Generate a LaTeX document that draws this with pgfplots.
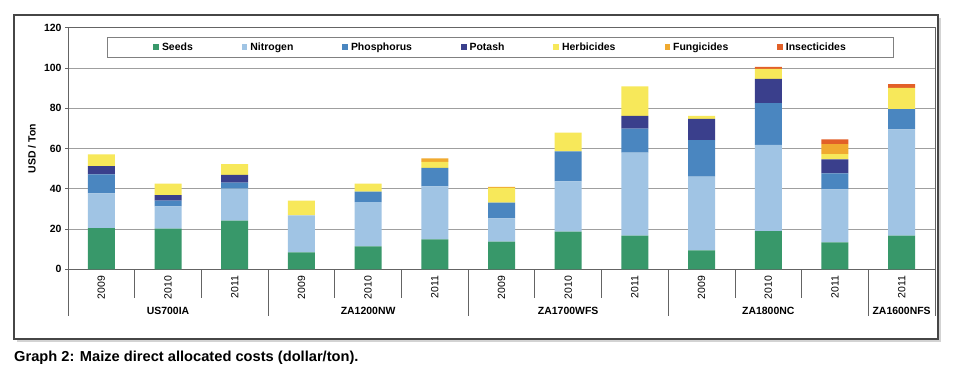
\documentclass[border=0pt]{standalone}
\usepackage{pgfplots}
\pgfplotsset{compat=1.18}
\usepackage{pgfplotstable}
\usepackage{fontspec}
\setmainfont{Liberation Sans}
\usetikzlibrary{shadows}
\definecolor{cSeeds}{RGB}{56,152,106}
\definecolor{cNit}{RGB}{160,196,228}
\definecolor{cPho}{RGB}{74,134,192}
\definecolor{cPot}{RGB}{58,63,140}
\definecolor{cHerb}{RGB}{247,232,90}
\definecolor{cFung}{RGB}{240,170,48}
\definecolor{cIns}{RGB}{226,96,40}
\definecolor{cAxis}{RGB}{100,100,100}
\newcommand{\lf}{\fontsize{10.5}{12}\selectfont}
\pgfplotstableread{
x S N P K H F I
0 20.4 17.3 9.5 4.1 5.8 0 0
1 20.2 11.1 2.8 2.7 5.7 0 0
2 24.2 15.9 2.9 3.9 5.4 0 0
3 8.4 18.4 0 0 7.3 0 0
4 11.4 22.0 5.2 0 3.9 0 0
5 14.9 26.3 9.2 0 3.0 1.7 0
6 13.7 11.6 7.8 0 7.3 0.6 0
7 18.7 25.0 14.9 0 9.3 0 0
8 16.7 41.2 12.0 6.3 14.7 0 0
9 9.4 36.6 18.2 10.5 1.5 0 0
10 19.0 42.8 20.7 12.1 4.9 0 1.0
11 13.4 26.3 8.0 6.9 2.6 5.0 2.3
12 16.7 52.8 10.0 0 10.6 0 1.9
}\data
\begin{document}
\begin{tikzpicture}
\path[use as bounding box] (0bp,0bp) rectangle (960bp,373bp);
\draw[cAxis!70!black, line width=1.2bp, fill=white, drop shadow={shadow xshift=3bp, shadow yshift=-3bp, opacity=0.35}] (14bp,34bp) rectangle (938bp,358bp);
\node[anchor=base west, inner sep=0pt] at (14bp,11.3bp) {\scalebox{1.015}[1]{\fontsize{14.5}{16}\selectfont\bfseries Graph 2: Maize direct allocated costs (dollar/ton).}};
\begin{axis}[
  at={(68bp,103.7bp)}, anchor=south west, scale only axis,
  width=867bp, height=241.6bp,
  ybar stacked, bar width=27bp,
  xmin=-0.5, xmax=12.5, ymin=0, ymax=120,
  ytick={0,20,...,120}, xtick={0,...,12},
  xticklabels={2009,2010,2011,2009,2010,2011,2009,2010,2011,2009,2010,2011,2011},
  x tick label style={rotate=90, anchor=east, font=\lf},
  y tick label style={font=\lf\bfseries},
  /pgf/number format/assume math mode=true,
  ymajorgrids, grid style={gray!75, line width=0.8bp},
  axis line style={cAxis, line width=0.8bp},
  tick align=outside, ytick pos=left, xtick style={draw=none},
  major tick length=3bp, ytick style={cAxis, line width=0.8bp},
  ylabel={USD / Ton},
  ylabel style={font=\lf\bfseries, at={(axis description cs:-0.0415,0.5)}, anchor=center},
  clip=false,
  legend columns=7,
  legend image code/.code={\draw[#1, draw=none] (0bp,-2.8bp) rectangle (5.6bp,2.8bp);},
  legend style={at={(rel axis cs:0.499,0.92)}, anchor=center, draw=gray, line width=0.8bp,
    font=\lf\bfseries, inner xsep=46bp, inner ysep=3.5bp,
    /tikz/every even column/.append style={column sep=47bp},
    /tikz/every odd column/.append style={column sep=1bp}},
]
\addplot[fill=cSeeds, draw=none] table[x=x,y=S]{\data};
\addplot[fill=cNit, draw=none] table[x=x,y=N]{\data};
\addplot[fill=cPho, draw=none] table[x=x,y=P]{\data};
\addplot[fill=cPot, draw=none] table[x=x,y=K]{\data};
\addplot[fill=cHerb, draw=none] table[x=x,y=H]{\data};
\addplot[fill=cFung, draw=none] table[x=x,y=F]{\data};
\addplot[fill=cIns, draw=none] table[x=x,y=I]{\data};
\legend{Seeds,Nitrogen,Phosphorus,Potash,Herbicides,Fungicides,Insecticides}
\pgfplotsinvokeforeach{0.5,1.5,3.5,4.5,6.5,7.5,9.5,10.5}{\draw[cAxis, line width=0.8bp] (axis cs:#1,0) -- ([yshift=-29bp]axis cs:#1,0);}
\pgfplotsinvokeforeach{-0.5,2.5,5.5,8.5,11.5,12.5}{\draw[cAxis, line width=0.8bp] (axis cs:#1,0) -- ([yshift=-47bp]axis cs:#1,0);}
\node[font=\lf\bfseries, yshift=-42bp] at (axis cs:1,0) {US700IA};
\node[font=\lf\bfseries, yshift=-42bp] at (axis cs:4,0) {ZA1200NW};
\node[font=\lf\bfseries, yshift=-42bp] at (axis cs:7,0) {ZA1700WFS};
\node[font=\lf\bfseries, yshift=-42bp] at (axis cs:10,0) {ZA1800NC};
\node[font=\lf\bfseries, yshift=-42bp] at (axis cs:12,0) {ZA1600NFS};
\end{axis}
\end{tikzpicture}
\end{document}
